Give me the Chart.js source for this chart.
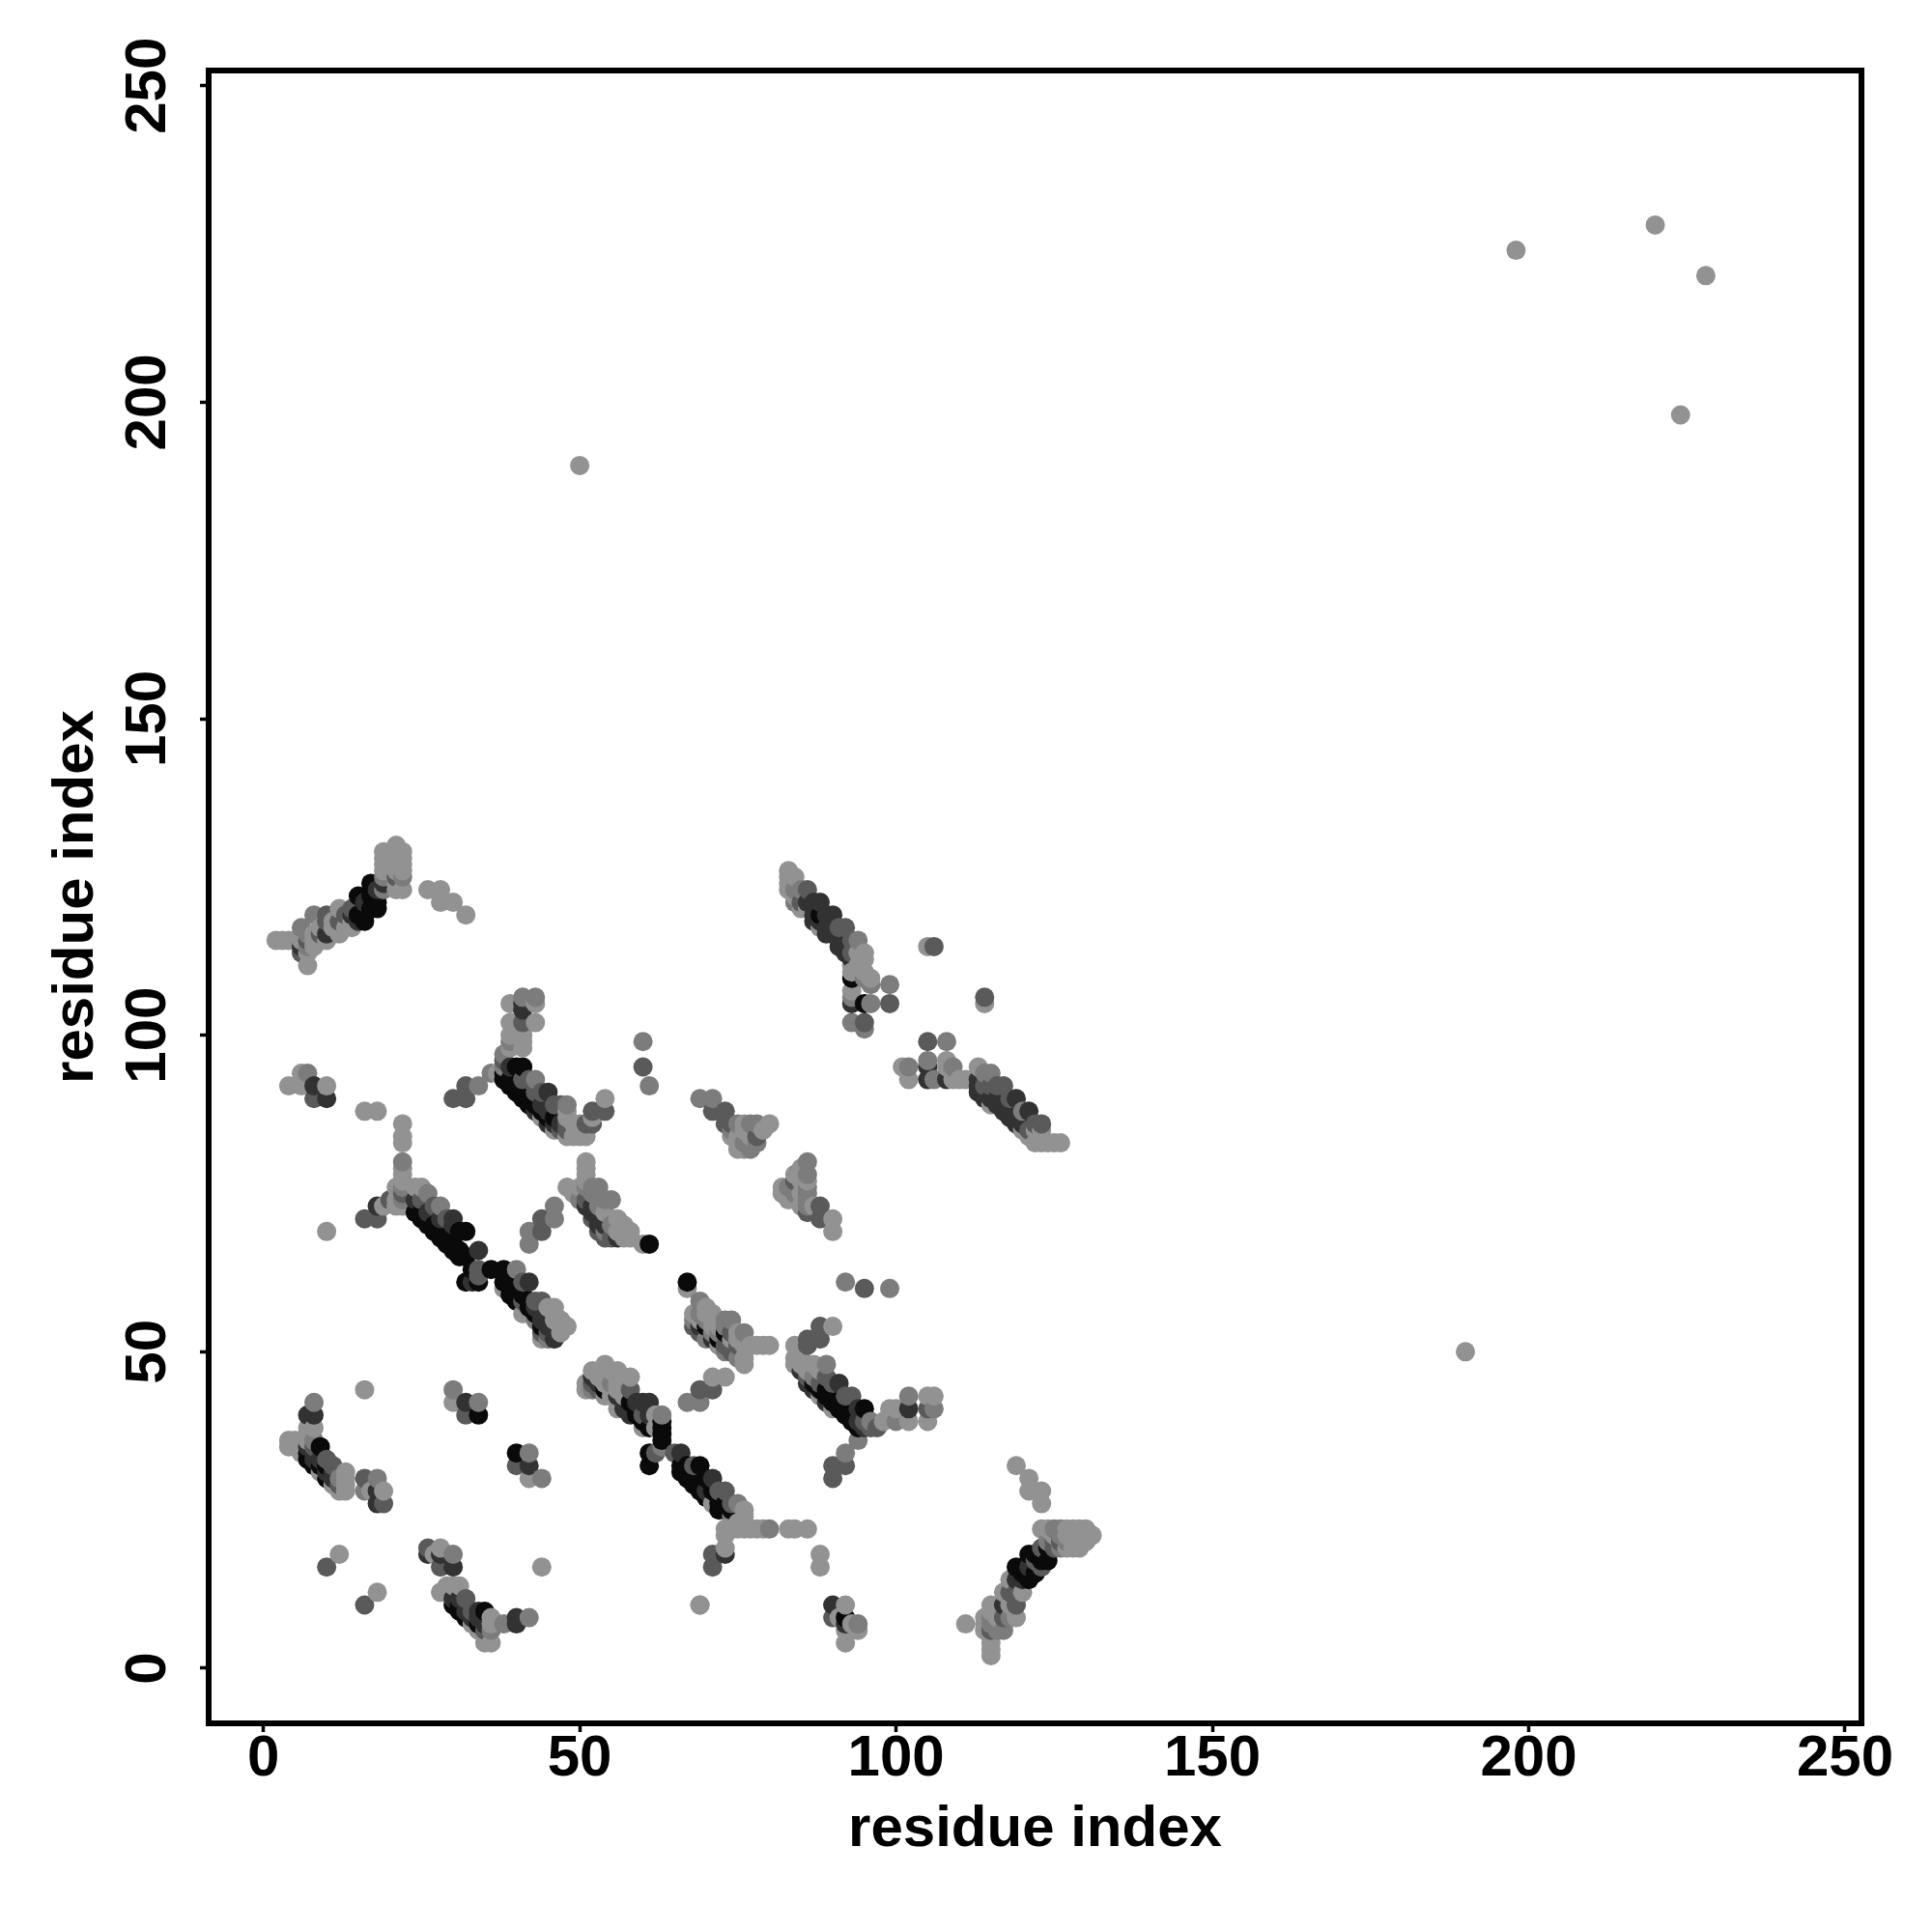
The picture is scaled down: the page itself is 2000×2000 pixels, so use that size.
<!DOCTYPE html>
<html>
<head>
<meta charset="utf-8">
<style>
  html, body { margin: 0; padding: 0; background: #fff; }
  #wrap { width: 2000px; height: 2000px; }
</style>
<script src="https://cdn.jsdelivr.net/npm/chart.js@4"></script>
</head>
<body>
<div id="wrap"><canvas id="contactMap" width="2000" height="2000"></canvas></div>
<script>
// rows are [residue i, residue j, contact level 1..5]
const tickValues = [0, 50, 100, 150, 200, 250];
const axisTitle = "residue index";

const bandA = [
  [4,35,1],[4,36,1],[5,35,1],[5,36,1],[6,34,1],[6,36,1],[7,33,5],[7,34,5],[7,35,4],[7,36,1],[7,38,1],[7,40,4],
  [8,32,5],[8,33,4],[8,35,3],[8,36,2],[8,38,1],[8,40,4],[8,42,2],[9,31,1],[9,32,5],[9,33,4],[9,35,5],
  [10,30,5],[10,31,4],[10,32,5],[10,33,3],[11,29,1],[11,30,4],[11,31,4],[11,32,3],
  [12,28,1],[12,29,3],[12,30,2],[13,28,1],[13,29,1],[13,30,1],[13,31,1],
];
const patchA = [
  [16,28,2],[16,30,3],[17,28,1],[18,26,4],[18,28,4],[18,30,2],[19,26,3],[19,28,1],
];
const strays = [
  [10,16,3],[12,18,1],[16,10,3],[18,12,1],[16,44,1],[44,16,1],[10,69,1],[69,10,1],
  [50,190,1],[190,50,1],[198,224,1],[220,228,1],[224,198,1],[228,220,1],
];
const patchB = [
  [26,18,4],[26,19,3],[27,18,1],[28,16,3],[28,18,4],[28,19,1],[30,16,4],[30,18,2],
  [30,42,1],[30,44,2],[32,40,3],[32,42,4],[34,40,5],[34,42,2],
  [40,32,3],[40,34,5],[42,30,1],[42,32,4],[42,34,2],[44,30,2],
];
const bandA2 = [
  [28,12,1],[29,13,1],[30,10,5],[30,11,4],[30,13,1],[31,9,5],[31,10,5],[31,11,4],[31,13,1],
  [32,8,5],[32,9,4],[32,11,3],[33,7,1],[33,8,4],[33,9,3],[34,6,1],[34,7,5],[34,8,4],[34,9,4],
  [35,4,1],[35,6,3],[35,7,4],[35,8,4],[35,9,5],[36,4,1],[36,6,2],[36,7,1],[36,8,1],
  [38,7,2],[40,7,4],[40,8,4],[42,8,2],
];
const bandB = [
  [51,44,1],[51,45,1],[52,44,2],[52,45,3],[52,46,4],[52,47,1],[53,44,3],[53,45,4],[53,46,1],[53,47,1],
  [54,43,1],[54,44,5],[54,45,1],[54,46,1],[54,48,1],[55,43,1],[55,44,1],[55,45,2],[55,47,1],
  [56,41,1],[56,42,1],[56,43,4],[56,44,1],[56,45,1],[56,47,1],[57,41,4],[57,42,4],[57,43,1],[57,44,1],[57,46,1],
  [58,40,4],[58,41,4],[58,42,5],[58,44,3],[58,46,1],[59,40,5],[59,41,5],[59,42,4],
  [60,38,1],[60,39,5],[60,40,3],[60,42,4],[61,38,5],[61,40,4],[61,42,4],[62,38,1],[62,40,1],
  [61,32,5],[61,34,5],[62,34,3],[63,35,2],[63,36,5],[63,37,5],[63,38,5],[63,39,5],[63,40,2],
  [65,34,3],[66,31,5],[66,32,5],[66,34,4],[67,30,5],[67,32,5],[68,29,5],[68,30,5],[68,32,3],[69,28,5],[69,32,5],
  [70,27,5],[70,28,4],[70,30,5],[71,26,1],[71,28,5],[71,30,4],[72,25,5],[72,26,5],[72,28,3],
  [73,25,5],[73,26,5],[73,28,3],[74,22,3],[74,23,3],[74,24,2],[74,25,5],[74,26,3],[75,22,1],[75,23,1],[75,26,2],
  [76,22,1],[76,24,1],[76,25,1],[77,22,1],[78,22,1],[79,22,1],[80,22,2],
  [73,21,1],[73,22,1],[71,16,3],[71,18,3],[73,18,4],[73,19,1],
  [69,10,1],[83,22,1],[84,22,1],[86,22,1],[88,16,1],[88,18,1],
];
const sideB = [
  [67,42,2],[69,42,2],[69,44,3],[71,44,3],[71,46,1],[73,46,1],
  [90,30,3],[90,32,3],[92,32,3],[92,34,2],
  [90,8,3],[90,10,4],[91,8,1],[92,4,1],[92,6,1],[92,7,4],[92,8,5],[92,10,1],[93,7,1],[94,6,1],[94,7,2],
];
const bandC = [
  [84,48,1],[84,49,1],[84,51,1],[85,47,4],[85,48,1],[85,50,1],[86,45,4],[86,46,3],[86,47,1],[86,48,1],[86,51,3],[86,52,3],
  [87,44,4],[87,45,5],[87,46,2],[87,48,1],[88,43,1],[88,44,5],[88,45,3],[88,47,1],[88,52,3],[88,54,3],
  [89,42,4],[89,43,5],[89,44,5],[89,46,3],[89,48,2],[90,41,1],[90,42,5],[90,43,5],[90,45,3],[90,54,1],
  [91,41,5],[91,42,5],[91,45,4],[92,40,5],[92,41,5],[92,43,3],[93,39,5],[93,40,5],[93,43,3],
  [94,36,2],[94,38,5],[94,39,4],[94,41,4],[95,38,4],[95,39,3],[95,41,5],
  [96,38,3],[96,39,2],[97,38,3],[98,39,1],[99,40,1],[99,41,1],[100,39,2],[100,41,1],
  [102,39,1],[102,41,4],[102,43,2],[105,39,1],[105,41,3],[105,43,1],[106,41,2],[106,43,1],
  [92,61,2],[95,60,3],[99,60,2],
];
const bandD = [
  [16,71,3],[18,71,3],[18,73,4],[19,73,1],[20,74,3],[21,73,1],[21,74,1],[21,76,1],[22,73,1],[22,74,2],[22,75,3],
  [22,76,2],[22,77,1],[22,78,1],[22,79,1],[22,80,2],[22,83,1],[22,84,1],[22,86,1],
  [24,72,5],[24,74,4],[24,76,1],[25,71,5],[25,72,5],[25,74,3],[25,76,1],[26,70,5],[26,72,4],[26,75,2],
  [27,69,5],[27,70,5],[27,73,3],[28,68,5],[28,69,5],[28,71,4],[28,73,2],[29,67,5],[29,68,5],[29,71,3],
  [30,66,5],[30,67,5],[30,70,4],[30,71,4],[31,65,5],[31,66,5],[31,69,5],[32,61,5],[32,65,5],[32,69,5],
  [33,61,4],[33,63,5],[34,61,5],[34,62,3],[34,63,3],[34,66,4],[36,63,5],[38,60,1],[38,61,5],[38,63,5],
  [39,59,5],[39,60,5],[39,62,5],[40,58,5],[40,59,5],[40,63,2],[41,56,1],[41,58,3],[41,59,5],[41,61,3],
  [42,56,1],[42,57,5],[42,58,5],[42,61,4],[43,55,2],[43,56,5],[43,57,4],[43,58,3],[44,52,1],[44,53,3],[44,54,5],[44,55,4],[44,58,3],
  [45,52,2],[45,53,3],[45,54,4],[45,57,1],[46,52,4],[46,53,4],[46,55,1],[46,57,1],[47,53,1],[47,55,1],[48,54,1],
];
const bandE = [
  [42,67,2],[42,69,2],[44,69,3],[44,71,3],[46,71,2],[46,73,2],
  [48,76,1],[49,75,1],[50,74,2],[50,76,1],[51,73,4],[51,74,3],[51,76,2],[51,77,1],[51,78,1],[51,79,1],[51,80,1],
  [52,71,3],[52,72,4],[52,73,4],[52,75,2],[52,76,2],[53,69,3],[53,70,4],[53,71,4],[53,73,2],[53,76,2],
  [54,68,3],[54,69,2],[54,70,4],[54,72,1],[54,74,2],[55,68,3],[55,70,2],[55,74,2],[56,68,4],[56,69,1],[56,71,1],
  [57,68,1],[57,70,1],[58,68,1],[58,69,1],[60,67,1],[61,67,5],[67,60,1],[67,61,5],
];
const bandJ = [
  [68,54,3],[68,55,2],[68,56,1],[69,53,3],[69,54,4],[69,55,1],[69,56,2],[69,58,2],[70,52,2],[70,54,5],[70,55,2],[70,56,1],[70,57,1],
  [71,52,4],[71,53,2],[71,54,1],[71,56,1],[72,51,1],[72,52,5],[72,53,2],[72,54,1],[72,55,1],[73,50,2],[73,51,3],[73,53,5],[73,54,2],[73,55,2],
  [74,50,3],[74,51,3],[74,52,1],[74,53,3],[74,55,2],[75,49,2],[75,51,3],[75,52,1],[75,53,1],[76,48,1],[76,49,1],[76,51,1],[76,53,2],
  [77,51,1],[78,51,1],[79,51,1],[80,51,1],
];
const patchH = [
  [30,90,3],[32,90,3],[32,92,3],[34,92,2],[36,94,2],
  [4,92,1],[6,92,1],[6,94,1],[7,94,2],[8,90,3],[8,92,4],[10,90,4],[10,92,1],
  [16,88,1],[18,88,1],[60,95,3],[60,99,2],[61,92,2],
];
const bandG = [
  [37,94,1],[38,93,5],[38,94,5],[38,95,2],[38,96,3],[38,97,2],[39,92,5],[39,93,5],[39,95,4],[39,98,1],[39,99,2],[39,100,1],[39,102,1],[39,105,1],
  [40,91,5],[40,92,5],[40,95,5],[41,90,5],[41,91,5],[41,93,3],[41,95,5],[41,98,1],[41,99,1],[41,100,1],[41,102,3],[41,104,4],[41,105,4],[41,106,2],
  [42,89,5],[42,90,5],[42,93,3],[43,88,4],[43,89,5],[43,91,3],[43,93,2],[43,102,1],[43,105,1],[43,106,2],
  [44,87,1],[44,88,5],[44,89,4],[44,91,3],[45,86,4],[45,87,5],[45,88,4],[45,91,4],[46,85,1],[46,86,4],[46,87,5],[46,89,3],
  [47,85,3],[47,86,4],[47,89,3],[48,84,1],[48,85,3],[48,86,3],[48,87,1],[48,88,1],[48,89,2],[49,84,1],[49,86,1],[50,84,1],[50,86,1],
  [51,84,1],[51,86,3],[52,86,3],[52,87,1],[52,88,3],[54,88,3],[54,90,1],
];
const bandH = [
  [69,90,2],[71,88,3],[71,90,2],[73,86,3],[73,88,3],[74,84,1],[74,85,2],[74,86,3],[75,82,1],[75,84,1],[75,86,2],
  [76,82,1],[76,83,2],[76,85,1],[76,86,1],[77,82,2],[77,84,1],[77,86,2],[78,83,2],[78,84,3],[78,86,2],[79,85,1],[80,86,1],
  [82,75,1],[82,76,1],[83,74,1],[83,76,2],[84,74,1],[84,75,2],[84,77,3],[84,78,1],[85,73,1],[85,75,1],[85,77,1],[85,79,1],
  [86,72,3],[86,73,2],[86,74,2],[86,75,2],[86,76,2],[86,77,1],[86,78,2],[86,80,2],
  [87,73,1],[88,71,3],[88,73,3],[90,69,1],[90,71,1],
];
const bandF = [
  [2,115,1],[3,115,1],[4,115,1],[5,115,1],[6,113,3],[6,114,4],[6,115,1],[6,117,2],[7,111,1],[7,113,1],[7,114,2],[7,115,3],[7,116,2],
  [8,114,1],[8,115,1],[8,116,1],[8,119,2],[9,115,1],[9,116,3],[9,117,1],[10,115,1],[10,116,4],[10,118,3],[10,119,3],
  [11,117,1],[11,118,1],[12,116,1],[12,117,1],[12,118,3],[12,120,1],[13,117,1],[13,119,3],[14,117,1],[14,118,1],[14,119,4],[14,120,3],
  [15,118,4],[15,119,5],[15,122,5],[16,118,5],[16,119,5],[16,121,4],[17,120,5],[17,122,5],[17,124,5],[18,120,5],[18,121,5],[18,123,4],
  [19,123,2],[19,124,4],[19,125,2],[19,126,1],[19,127,1],[19,128,1],[19,129,1],
  [21,123,1],[21,124,1],[21,125,3],[21,126,1],[21,128,1],[21,129,1],[21,130,1],
  [22,123,1],[22,125,2],[22,126,1],[22,127,1],[22,128,1],[22,129,1],
  [26,123,1],[28,121,1],[28,123,1],[30,121,1],[32,119,1],
];
const bandK = [
  [83,123,1],[83,124,1],[83,125,1],[83,126,1],[84,121,2],[84,122,1],[84,123,2],[84,125,1],[85,120,1],[85,121,3],[85,123,2],[86,120,1],[86,121,4],[86,123,3],
  [87,118,4],[87,119,4],[87,121,4],[88,117,1],[88,118,4],[88,119,5],[88,121,4],[89,116,4],[89,117,4],[89,119,4],[90,116,4],[90,117,4],[90,119,4],
  [91,114,4],[91,115,4],[91,117,3],[92,113,4],[92,114,4],[92,117,3],[93,111,1],[93,112,4],[93,113,3],[93,115,3],[94,111,1],[94,113,1],[94,115,2],[95,112,1],[95,113,1],
  [93,102,2],[93,105,4],[93,106,2],[93,107,1],[93,109,5],[93,110,1],[95,101,2],[95,102,3],[95,105,5],[95,109,2],[95,110,1],[96,105,2],[96,108,2],[96,109,1],[99,105,3],[99,108,2],
  [105,114,1],[106,114,3],[114,105,1],[114,106,3],
];
const bandL = [
  [101,95,1],[102,93,1],[102,95,2],[105,93,4],[105,95,4],[105,96,2],[105,99,3],[106,93,2],[108,93,4],[108,95,1],[108,96,1],[108,99,2],[109,93,1],[109,95,2],[110,93,1],[111,93,1],
  [112,93,1],[113,91,4],[113,92,4],[113,93,4],[113,95,1],[114,90,4],[114,91,4],[114,92,3],[114,94,2],[115,89,1],[115,90,4],[115,92,3],[115,94,2],
  [116,89,4],[116,90,4],[116,92,3],[117,88,4],[117,89,4],[117,92,3],[118,87,4],[118,88,4],[118,90,3],[119,86,4],[119,87,4],[119,90,4],
  [120,85,1],[120,86,4],[120,88,2],[121,84,1],[121,85,3],[121,88,4],[122,83,1],[122,85,1],[122,86,3],[123,83,1],[123,85,1],[123,86,3],[124,83,1],[125,83,1],[126,83,1],
];
const bandM = [
  [111,7,1],[114,6,1],[114,7,1],[114,8,1],[115,2,1],[115,3,1],[115,4,1],[115,5,1],[115,6,3],[115,7,2],[115,8,2],[115,9,1],[115,10,1],
  [116,6,2],[116,8,1],[117,6,2],[117,8,3],[117,10,4],[117,12,1],[118,8,2],[118,10,1],[118,12,3],[118,14,1],
  [119,8,1],[119,10,3],[119,12,3],[119,14,4],[119,16,5],[120,12,1],[120,14,4],[120,15,5],[120,16,5],[121,14,5],[121,16,4],[121,18,5],
  [122,15,5],[122,17,3],[122,18,5],[123,16,3],[123,17,5],[123,18,5],[123,19,3],[123,22,1],[119,32,1],[121,28,1],[121,30,1],[123,26,1],[123,28,1],
  [124,17,5],[124,19,5],[124,20,2],[124,22,1],[125,19,3],[125,20,3],[125,21,1],[125,22,2],[126,19,2],[126,20,3],[126,21,2],[126,22,2],
  [127,19,1],[127,20,2],[127,21,1],[127,22,1],[128,19,1],[128,20,1],[128,21,1],[128,22,1],[129,19,1],[129,20,1],[129,22,1],[130,20,1],[130,22,1],[131,21,1],
];

const contactGroups = [
  bandA, patchA, strays, patchB, bandA2, bandB, sideB, bandC, bandD, bandE, bandJ,
  patchH, bandG, bandH, bandF, bandK, bandL, bandM,
];
const levelGreys = { 1: "#929292", 2: "#7c7c7c", 3: "#5a5a5a", 4: "#323232", 5: "#0a0a0a" };

const contacts = contactGroups.flat();
const tickFont = { family: "'Liberation Sans'", size: 60, weight: "bold" };

const boxPlugin = {
  id: "plotBox",
  afterDatasetsDraw(chart) {
    const { ctx, chartArea } = chart;
    ctx.save();
    ctx.lineWidth = 6;
    ctx.strokeStyle = "#000";
    ctx.strokeRect(chartArea.left, chartArea.top, chartArea.right - chartArea.left, chartArea.bottom - chartArea.top);
    ctx.restore();
  },
};

function setTicks(scale) {
  scale.ticks = tickValues.map((value) => ({ value }));
}

function baseScale() {
  return {
    type: "linear",
    afterBuildTicks: setTicks,
    border: { display: false },
    grid: { drawOnChartArea: false, drawTicks: true, tickLength: 9, tickWidth: 3.5, tickColor: "#000" },
    title: { display: true, text: axisTitle, color: "#000", font: tickFont, padding: 0 },
  };
}

const xScale = baseScale();
xScale.min = -8.65;
xScale.max = 252.6;
xScale.ticks = { color: "#000", font: tickFont, padding: -8, maxRotation: 0, minRotation: 0, autoSkip: false };
xScale.title.padding = { top: 0, bottom: 70 };
xScale.afterFit = (scale) => { scale.height = 216; };

const yScale = baseScale();
yScale.min = -8.7;
yScale.max = 252.4;
yScale.ticks = { color: "#000", font: tickFont, padding: 2, minRotation: 90, maxRotation: 90, crossAlign: "center", autoSkip: false };
yScale.title.padding = { top: 43, bottom: 0 };
yScale.afterFit = (scale) => { scale.width = 216; };

new Chart(document.getElementById("contactMap"), {
  type: "scatter",
  data: {
    datasets: [
      {
        label: "contacts",
        data: contacts.map((row) => ({ x: row[0], y: row[1] })),
        pointRadius: 10,
        pointBorderWidth: 0,
        pointBackgroundColor: contacts.map((row) => levelGreys[row[2]]),
      },
    ],
  },
  options: {
    responsive: false,
    animation: false,
    devicePixelRatio: 1,
    layout: { padding: { top: 73, right: 73, left: 0, bottom: 0 } },
    plugins: { legend: { display: false }, tooltip: { enabled: false } },
    scales: { x: xScale, y: yScale },
  },
  plugins: [boxPlugin],
});
</script>
</body>
</html>
